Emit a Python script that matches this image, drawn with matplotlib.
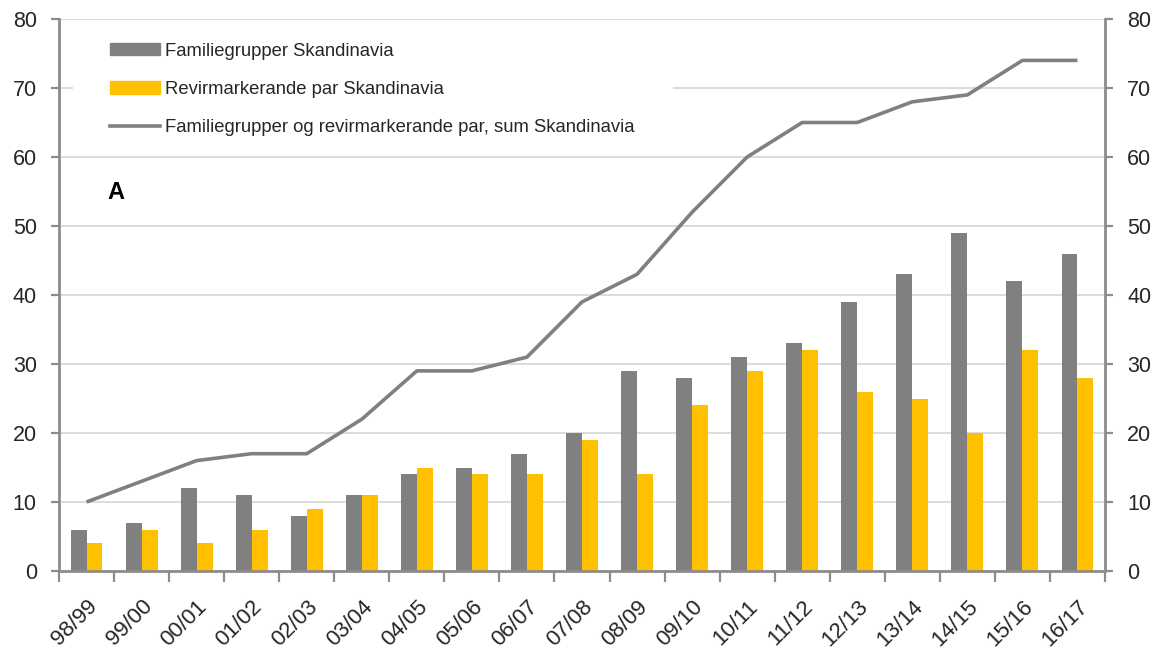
import numpy as np
import matplotlib
matplotlib.use("Agg")
import matplotlib.pyplot as plt
import matplotlib.transforms as mtransforms
from matplotlib.patches import Patch, Rectangle
from matplotlib.lines import Line2D

plt.rcParams["font.family"] = ["Liberation Sans", "DejaVu Sans"]

seasons = ["98/99", "99/00", "00/01", "01/02", "02/03", "03/04", "04/05",
           "05/06", "06/07", "07/08", "08/09", "09/10", "10/11", "11/12",
           "12/13", "13/14", "14/15", "15/16", "16/17"]
familiegrupper = [6, 7, 12, 11, 8, 11, 14, 15, 17, 20, 29, 28, 31, 33, 39,
                  43, 49, 42, 46]
revirpar = [4, 6, 4, 6, 9, 11, 15, 14, 14, 19, 14, 24, 29, 32, 26, 25, 20,
            32, 28]
summe = [10, 13, 16, 17, 17, 22, 29, 29, 31, 39, 43, 52, 60, 65, 65, 68, 69,
         74, 74]

GRAY = "#808080"
YELLOW = "#FFC000"
AXIS = "#8c8c8c"
TEXT = "#262626"

fig = plt.figure(figsize=(11.62, 6.5), dpi=100)
ax = fig.add_axes([59 / 1162, 1 - 571 / 650, 1046 / 1162, 552 / 650])

x = np.arange(len(seasons))
w = 0.29
ax.bar(x - w / 2, familiegrupper, w, color=GRAY, zorder=2)
ax.bar(x + w / 2, revirpar, w, color=YELLOW, zorder=2)
ax.plot(x, summe, color=GRAY, linewidth=2.6, solid_capstyle="butt", zorder=3)

ax.set_xlim(-0.5, len(seasons) - 0.5)
ax.set_ylim(0, 80)
ax.set_yticks(range(0, 81, 10))
ax.grid(axis="y", color="#d9d9d9", linewidth=1.3, zorder=0)
ax.set_axisbelow(True)

ax.set_xticks(x)
ax.set_xticklabels(seasons, rotation=45, ha="right", rotation_mode="anchor",
                   fontsize=16, color=TEXT)
shift = mtransforms.ScaledTranslation(-10 / 100, 0, fig.dpi_scale_trans)
for lbl in ax.get_xticklabels():
    lbl.set_transform(lbl.get_transform() + shift)
ax.set_xticks(np.arange(-0.5, len(seasons)), minor=True)
ax.tick_params(axis="x", which="major", length=0, pad=18)
ax.tick_params(axis="x", which="minor", length=8, width=1.6, color=AXIS,
               direction="out")
ax.tick_params(axis="y", left=True, right=True, labelleft=True,
               labelright=True, length=6, width=1.6, color=AXIS,
               labelsize=15.5, labelcolor=TEXT, pad=10)

for side in ("left", "right", "bottom"):
    ax.spines[side].set_color(AXIS)
    ax.spines[side].set_linewidth(2)
ax.spines["top"].set_visible(False)

# white block behind the legend hides the gridline at 70 like the original
ax.add_patch(Rectangle((0.0134, 0.772), 0.574, 0.215, transform=ax.transAxes,
                       facecolor="white", edgecolor="none", zorder=1))

handles = [Patch(color=GRAY), Patch(color=YELLOW),
           Line2D([0], [0], color=GRAY, linewidth=2.6)]
labels = ["Familiegrupper Skandinavia", "Revirmarkerande par Skandinavia",
          "Familiegrupper og revirmarkerande par, sum Skandinavia"]
leg = ax.legend(handles, labels, loc="upper left",
                bbox_to_anchor=(0.0488, 0.957), frameon=False,
                fontsize=13.3, handlelength=2.7, handleheight=0.65,
                handletextpad=0.27, labelspacing=1.15, borderpad=0,
                borderaxespad=0)
for t in leg.get_texts():
    t.set_color(TEXT)

ax.text(0.046, 0.685, "A", transform=ax.transAxes, fontsize=17,
        fontweight="bold", color="black", ha="left", va="center")

fig.savefig("out.png", dpi=100)
